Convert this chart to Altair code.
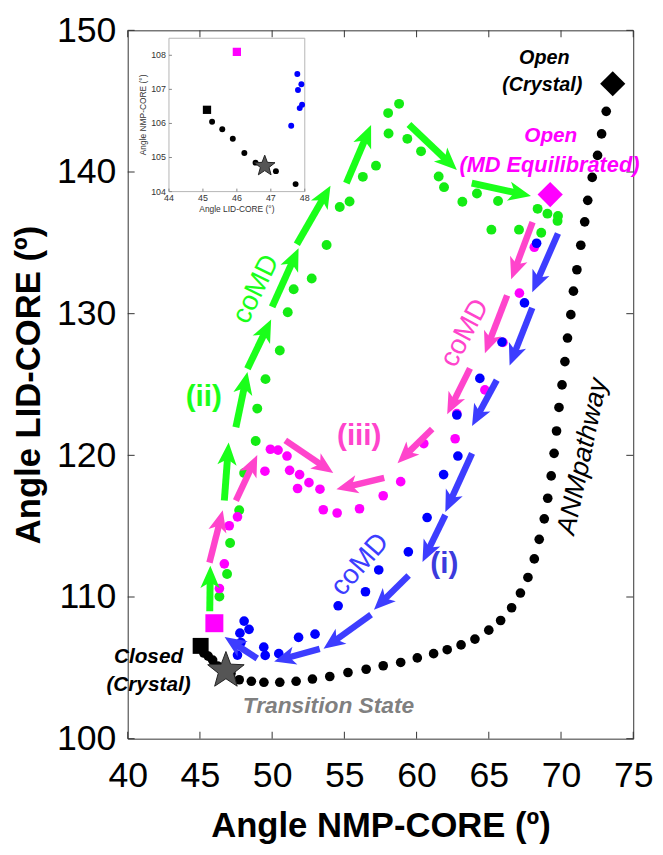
import altair as alt
import numpy as np
import pandas as pd

# ---------------- data ----------------
x_ticks = [40, 45, 50, 55, 60, 65, 70, 75]
y_ticks = [100, 110, 120, 130, 140, 150]

black_x = [45.27, 45.57, 45.88, 46.22, 46.55, 47.15, 47.72, 48.56, 49.43, 50.53, 51.66, 52.79, 53.99, 55.25,
           56.51, 57.69, 58.90, 60.05, 61.18, 62.12, 63.08, 64.04, 65.00, 65.82, 66.58, 67.19, 67.71, 68.15,
           68.49, 68.84, 69.08, 69.32, 69.52, 69.69, 69.86, 70.07, 70.27, 70.45, 70.68, 70.86, 71.10, 71.37,
           71.64, 71.85, 72.16, 72.53, 72.81, 73.13]
black_y = [106.05, 105.83, 105.55, 105.13, 104.85, 104.60, 104.16, 104.05, 103.98, 103.98, 104.05, 104.21,
           104.39, 104.67, 104.90, 105.15, 105.38, 105.70, 106.00, 106.28, 106.62, 107.03, 107.66, 108.34,
           109.24, 110.28, 111.38, 112.69, 114.07, 115.52, 116.97, 118.55, 120.14, 121.72, 123.38, 124.97,
           126.62, 128.28, 129.93, 131.59, 133.10, 134.83, 136.48, 138.00, 139.62, 141.17, 142.69, 144.28]

green_x = [46.35, 46.88, 47.09, 47.72, 48.06, 48.86, 48.97, 49.54, 50.53, 51.08, 51.49, 52.74, 53.77, 54.68,
           55.36, 56.28, 57.19, 58.06, 58.03, 58.79, 59.36, 60.31, 61.53, 61.90, 63.17, 64.18, 65.18, 65.64,
           67.09, 68.38, 68.63, 69.06, 69.79, 69.76]
green_y = [110.03, 111.62, 113.81, 116.12, 118.76, 121.01, 123.30, 125.38, 127.40, 130.10, 131.72, 132.48,
           134.85, 137.53, 137.92, 139.66, 140.45, 142.72, 144.16, 144.81, 142.34, 141.46, 139.68, 138.93,
           137.90, 138.48, 135.93, 137.95, 135.93, 137.40, 135.71, 137.06, 136.90, 136.55]

magenta_x = [46.35, 46.69, 47.03, 47.60, 49.50, 49.88, 50.41, 51.03, 51.21, 51.90, 52.55, 53.31, 51.76, 53.54,
             54.50, 56.05, 57.69, 58.90, 60.50, 62.67, 62.79, 64.73, 65.98, 67.12, 68.15]
magenta_y = [110.60, 112.34, 115.03, 115.66, 118.88, 120.43, 120.37, 119.95, 118.94, 118.64, 118.07, 117.61,
             117.66, 116.16, 115.93, 116.23, 117.15, 118.14, 120.83, 121.17, 122.94, 124.62, 127.97, 131.45,
             134.69]

blue_x = [48.06, 48.40, 47.77, 47.84, 47.60, 49.42, 49.52, 50.46, 51.83, 52.97, 54.57, 56.46, 57.38, 59.43,
          60.73, 61.87, 62.86, 62.79, 64.38, 65.91, 67.47, 68.31]
blue_y = [108.30, 107.72, 107.45, 106.79, 105.90, 106.46, 105.88, 106.00, 107.15, 107.38, 109.38, 110.37,
          111.91, 113.19, 115.61, 118.64, 119.95, 122.85, 125.43, 128.00, 130.76, 134.97]

green_arrow_x1 = [45.68, 46.69, 47.49, 48.29, 50.00, 51.71, 55.14, 59.47, 63.82]
green_arrow_y1 = [108.99, 116.81, 121.98, 126.12, 130.48, 134.90, 139.22, 143.36, 139.22]
green_arrow_x2 = [45.72, 46.99, 48.29, 49.93, 51.83, 54.04, 56.85, 62.79, 67.92]
green_arrow_y2 = [112.21, 120.90, 125.88, 129.59, 134.62, 139.03, 143.31, 140.14, 138.30]

magenta_arrow_x1 = [45.66, 47.49, 50.91, 57.76, 61.08, 63.70, 66.27, 68.03]
magenta_arrow_y1 = [112.43, 116.81, 121.06, 118.41, 121.86, 126.14, 131.29, 136.46]
magenta_arrow_x2 = [46.58, 48.97, 54.23, 54.45, 58.68, 62.12, 64.73, 66.55]
magenta_arrow_y2 = [116.12, 120.02, 118.76, 117.61, 119.45, 122.90, 127.21, 132.43]

blue_arrow_x1 = [69.79, 68.01, 65.55, 63.84, 61.99, 59.45, 56.85, 53.29, 48.97]
blue_arrow_y1 = [135.66, 130.41, 125.31, 120.14, 115.79, 111.52, 108.76, 106.34, 105.66]
blue_arrow_x2 = [68.01, 66.44, 63.84, 61.99, 60.41, 57.05, 53.56, 50.14, 46.71]
blue_arrow_y2 = [131.52, 126.34, 122.07, 116.00, 112.48, 109.10, 106.34, 105.45, 107.17]

closed_crystal = [45.05, 106.55]
closed_md = [46.0, 108.15]
transition_state = [46.8, 104.8]
open_crystal = [73.58, 146.23]
open_md = [69.25, 138.41]

ann_text = ["Open", "(Crystal)", "Open", "(MD Equilibrated)", "Closed", "(Crystal)", "Transition State",
            "ANMpathway", "coMD", "coMD", "coMD", "(ii)", "(iii)", "(i)"]
ann_x = [68.84, 68.70, 69.29, 69.20, 41.44, 41.44, 53.90, 71.51, 48.90, 63.36, 56.10, 45.27, 56.03, 61.92]
ann_y = [148.07, 146.14, 142.55, 140.52, 105.79, 103.79, 102.28, 119.93, 131.72, 128.62, 112.28, 124.14,
         121.38, 112.34]

# inset (its own axes)
inset_x_domain = [44, 48]
inset_y_domain = [104, 108.5]
inset_x_ticks = [44, 45, 46, 47, 48]
inset_y_ticks = [104, 105, 106, 107, 108]
inset_x_title = "Angle LID-CORE (°)"
inset_y_title = "Angle NMP-CORE (°)"
inset_black_x = [45.27, 45.57, 45.88, 46.22, 46.55, 47.15, 47.73]
inset_black_y = [106.05, 105.83, 105.55, 105.13, 104.85, 104.60, 104.22]
inset_blue_x = [47.78, 47.90, 47.80, 47.92, 47.85, 47.60]
inset_blue_y = [107.45, 107.15, 106.98, 106.55, 106.45, 105.93]
inset_closed = [45.12, 106.40]
inset_md = [46.0, 108.10]
inset_ts = [46.82, 104.75]

# ---------------- layout / styles ----------------
W, H = 511, 716
PAD = {"left": 121, "top": 18, "right": 22, "bottom": 113}
X_DOMAIN = [40, 75]
Y_DOMAIN = [100, 150]
SX = W / (X_DOMAIN[1] - X_DOMAIN[0])
SY = H / (Y_DOMAIN[1] - Y_DOMAIN[0])
FONT = "Liberation Sans"

GREEN_DOT = "#14ec14"
GREEN_ARR = "#1aff1a"
MAG_DOT = "#ff00ff"
MAG_ARR = "#ff44cc"
BLUE_DOT = "#0000ff"
BLUE_ARR = "#3d3dff"

ARROW_PATH = "M0,0L0.9,2.1L0,1.55L-0.9,2.1Z"
HEAD_BACK = 14

# inset box placement inside the plot area (pixels from plot's top-left)
IN_LEFT, IN_RIGHT, IN_TOP, IN_BOTTOM = 41.7, 179.0, 8.0, 163.0


def star_path(inner=0.42):
    pts = []
    for k in range(10):
        r = 1.0 if k % 2 == 0 else inner
        a = np.radians(-90 + 36 * k)
        pts.append(f"{r*np.cos(a):.3f},{r*np.sin(a):.3f}")
    return "M" + "L".join(pts) + "Z"


STAR = star_path()

xs = alt.Scale(domain=X_DOMAIN, nice=False, zero=False)
ys = alt.Scale(domain=Y_DOMAIN, nice=False, zero=False)


def XY(xf="x", yf="y"):
    # no axis argument here: the single explicit axis lives on the black layer
    return dict(x=alt.X(f"{xf}:Q", scale=xs), y=alt.Y(f"{yf}:Q", scale=ys))


def inset_to_main_x(v):
    px = IN_LEFT + (np.asarray(v, float) - inset_x_domain[0]) / (inset_x_domain[1] - inset_x_domain[0]) * (IN_RIGHT - IN_LEFT)
    return X_DOMAIN[0] + px / SX


def inset_to_main_y(v):
    py = IN_BOTTOM - (np.asarray(v, float) - inset_y_domain[0]) / (inset_y_domain[1] - inset_y_domain[0]) * (IN_BOTTOM - IN_TOP)
    return Y_DOMAIN[1] - py / SY


def dots(xv, yv, color, size):
    df = pd.DataFrame({"x": xv, "y": yv})
    return alt.Chart(df).mark_circle(size=size, color=color, opacity=1).encode(**XY())


def arrows(x1, y1, x2, y2, color, width, head):
    df = pd.DataFrame({"x1": x1, "y1": y1, "x2": x2, "y2": y2})
    dxp = (df.x2 - df.x1) * SX
    dyp = (df.y2 - df.y1) * SY
    L = np.hypot(dxp, dyp)
    df["xs"] = df.x2 - dxp / L * HEAD_BACK / SX
    df["ys"] = df.y2 - dyp / L * HEAD_BACK / SY
    df["ang"] = np.degrees(np.arctan2(dxp, dyp)) % 360
    shaft = alt.Chart(df).mark_rule(color=color, strokeWidth=width, strokeCap="butt").encode(
        x2="xs:Q", y2="ys:Q", **XY("x1", "y1"))
    tip = alt.Chart(df).mark_point(shape=ARROW_PATH, filled=True, color=color, opacity=1,
                                   size=head, strokeWidth=0).encode(
        angle=alt.Angle("ang:Q", scale=None), **XY("x2", "y2"))
    return [shaft, tip]


def marker(x, y, shape, size, fill, stroke=None):
    df = pd.DataFrame({"x": [float(x)], "y": [float(y)]})
    kw = dict(shape=shape, size=size, filled=True, color=fill, opacity=1)
    if stroke:
        kw.update(stroke=stroke, strokeWidth=1)
    else:
        kw.update(strokeWidth=0)
    return alt.Chart(df).mark_point(**kw).encode(**XY())


def label(i, color, size, weight="bold", style="italic", angle=0):
    df = pd.DataFrame({"x": [ann_x[i]], "y": [ann_y[i]], "t": [ann_text[i]]})
    return alt.Chart(df).mark_text(color=color, fontSize=size, fontWeight=weight, fontStyle=style,
                                   angle=angle, font=FONT, align="center", baseline="middle"
                                   ).encode(text="t:N", **XY())


black_df = pd.DataFrame({"x": black_x, "y": black_y})
black_layer = alt.Chart(black_df).mark_circle(size=95, color="black", opacity=1).encode(
    x=alt.X("x:Q", scale=xs, axis=alt.Axis(values=x_ticks, title="Angle NMP-CORE (º)", format="d")),
    y=alt.Y("y:Q", scale=ys, axis=alt.Axis(values=y_ticks, title="Angle LID-CORE (º)", format="d")))

xt = pd.DataFrame({"v": x_ticks})
yt = pd.DataFrame({"v": y_ticks})
TICK = "#333333"
tick_layers = [
    alt.Chart(xt).mark_rule(color=TICK).encode(x=alt.X("v:Q", scale=xs), y=alt.value(H), y2=alt.value(H - 7)),
    alt.Chart(xt).mark_rule(color=TICK).encode(x=alt.X("v:Q", scale=xs), y=alt.value(0), y2=alt.value(7)),
    alt.Chart(yt).mark_rule(color=TICK).encode(y=alt.Y("v:Q", scale=ys), x=alt.value(0), x2=alt.value(7)),
    alt.Chart(yt).mark_rule(color=TICK).encode(y=alt.Y("v:Q", scale=ys), x=alt.value(W), x2=alt.value(W - 7)),
]

layers = [black_layer] + tick_layers
layers += [dots(green_x, green_y, GREEN_DOT, 100),
           dots(magenta_x, magenta_y, MAG_DOT, 95),
           dots(blue_x, blue_y, BLUE_DOT, 95)]
layers += arrows(green_arrow_x1, green_arrow_y1, green_arrow_x2, green_arrow_y2, GREEN_ARR, 7, 470)
layers += arrows(magenta_arrow_x1, magenta_arrow_y1, magenta_arrow_x2, magenta_arrow_y2, MAG_ARR, 6.5, 430)
layers += arrows(blue_arrow_x1, blue_arrow_y1, blue_arrow_x2, blue_arrow_y2, BLUE_ARR, 6.5, 430)
layers += [
    marker(*closed_md, "square", 330, MAG_DOT),
    marker(*closed_crystal, "square", 260, "black"),
    marker(*transition_state, STAR, 1500, "#555555", stroke="#222222"),
    marker(*open_crystal, "diamond", 650, "black"),
    marker(*open_md, "diamond", 650, MAG_DOT),
]
layers += [
    label(0, "black", 20), label(1, "black", 20),
    label(2, MAG_DOT, 21), label(3, MAG_DOT, 22),
    label(4, "black", 21), label(5, "black", 21),
    label(6, "#808080", 23),
    label(7, "black", 27, weight="normal", angle=282),
    label(8, GREEN_ARR, 28, weight="normal", style="normal", angle=296),
    label(9, MAG_ARR, 28, weight="normal", style="normal", angle=298),
    label(10, BLUE_ARR, 28, weight="normal", style="normal", angle=311),
    label(11, GREEN_ARR, 30, style="normal"),
    label(12, MAG_ARR, 30, style="normal"),
    label(13, "#3b3bdd", 30, style="normal"),
]

# ---------------- inset, drawn in the main data space ----------------
box_df = pd.DataFrame({"x": inset_to_main_x([inset_x_domain[0]]), "x2": inset_to_main_x([inset_x_domain[1]]),
                       "y": inset_to_main_y([inset_y_domain[0]]), "y2": inset_to_main_y([inset_y_domain[1]])})
layers.append(alt.Chart(box_df).mark_rect(fill="white", stroke="#b5b5b5", strokeWidth=1).encode(
    x2="x2:Q", y2="y2:Q", **XY()))

ixt = pd.DataFrame({"x": inset_to_main_x(inset_x_ticks), "y": inset_to_main_y([inset_y_domain[0]] * len(inset_x_ticks)),
                    "t": [str(v) for v in inset_x_ticks]})
iyt = pd.DataFrame({"x": inset_to_main_x([inset_x_domain[0]] * len(inset_y_ticks)), "y": inset_to_main_y(inset_y_ticks),
                    "t": [str(v) for v in inset_y_ticks]})
ICOL = "#333333"
layers.append(alt.Chart(ixt).mark_rule(color="#888").encode(y2=alt.Y2("yt:Q"), **XY()).transform_calculate(
    yt=f"datum.y + {3.0 / SY}"))
layers.append(alt.Chart(iyt).mark_rule(color="#888").encode(x2=alt.X2("xt:Q"), **XY()).transform_calculate(
    xt=f"datum.x + {3.0 / SX}"))
layers.append(alt.Chart(ixt).mark_text(fontSize=9, font=FONT, color=ICOL, baseline="top", dy=3).encode(
    text="t:N", **XY()))
layers.append(alt.Chart(iyt).mark_text(fontSize=9, font=FONT, color=ICOL, align="right", baseline="middle", dx=-3).encode(
    text="t:N", **XY()))
ititle_x = pd.DataFrame({"x": inset_to_main_x([np.mean(inset_x_domain)]), "y": inset_to_main_y([inset_y_domain[0]]),
                         "t": [inset_x_title]})
ititle_y = pd.DataFrame({"x": inset_to_main_x([inset_x_domain[0]]), "y": inset_to_main_y([np.mean(inset_y_domain)]),
                         "t": [inset_y_title]})
layers.append(alt.Chart(ititle_x).mark_text(fontSize=8.5, font=FONT, color=ICOL, baseline="top", dy=14).encode(
    text="t:N", **XY()))
layers.append(alt.Chart(ititle_y).mark_text(fontSize=8.5, font=FONT, color=ICOL, angle=270, baseline="bottom",
                                            dy=-21).encode(text="t:N", **XY()))


def idots(xv, yv, color, size):
    df = pd.DataFrame({"x": inset_to_main_x(xv), "y": inset_to_main_y(yv)})
    return alt.Chart(df).mark_circle(size=size, color=color, opacity=1).encode(**XY())


layers += [
    idots(inset_black_x, inset_black_y, "black", 36),
    idots(inset_blue_x, inset_blue_y, BLUE_DOT, 36),
    marker(inset_to_main_x(inset_md[0]), inset_to_main_y(inset_md[1]), "square", 70, MAG_DOT),
    marker(inset_to_main_x(inset_closed[0]), inset_to_main_y(inset_closed[1]), "square", 70, "black"),
    marker(inset_to_main_x(inset_ts[0]), inset_to_main_y(inset_ts[1]), STAR, 480, "#555555", stroke="#222222"),
]

chart = alt.layer(*layers).properties(
    width=W, height=H,
    autosize=alt.AutoSizeParams(type="none"),
    padding=PAD,
).configure_view(stroke="#333333", strokeWidth=1).configure_axis(
    ticks=False, domain=False, grid=False, labelFontSize=36, titleFontSize=35, labelColor="black",
    titleColor="black", titleFontWeight="bold", labelFont=FONT, titleFont=FONT, labelFlush=False
).configure_axisX(labelPadding=20, titlePadding=16).configure_axisY(labelPadding=12, titlePadding=10)

chart.save("out.html", embed_options={"renderer": "svg", "actions": False})
